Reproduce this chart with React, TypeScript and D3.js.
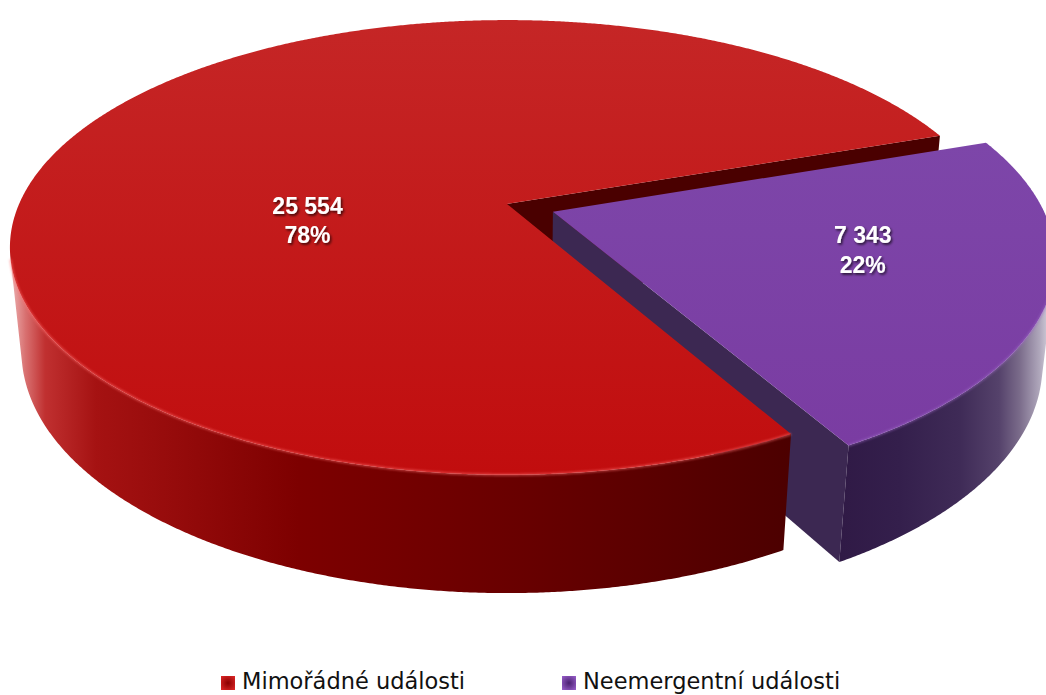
import React from "react";
import * as d3 from "d3";

// ---- data ----
const categories = ["Mimořádné události", "Neemergentní události"];
const values = [25554, 7343];

// ---- styles ----
const sliceStyles = [
  {
    topStops: [
      ["0%", "#c52626"],
      ["100%", "#c10d0e"],
    ],
    sideStops: [
      ["0%", "#eeb4b4"],
      ["2%", "#d87070"],
      ["4.5%", "#c03030"],
      ["11%", "#a51212"],
      ["37%", "#7d0000"],
      ["63%", "#6a0000"],
      ["100%", "#4c0000"],
    ],
    radial: "#4a0000",
    rim: "#ff7070",
    marker: ["#e02828", "#8a0000"],
  },
  {
    topStops: [
      ["0%", "#7d46a9"],
      ["100%", "#7a3ca2"],
    ],
    sideStops: [
      ["0%", "#301a46"],
      ["28%", "#341f4c"],
      ["58%", "#3f2b57"],
      ["77%", "#55426b"],
      ["87%", "#7a6b8a"],
      ["97%", "#b0a8bc"],
      ["100%", "#c8c2d0"],
    ],
    radial: "#3c2852",
    rim: "#9a68c4",
    marker: ["#9a60cc", "#4a2070"],
  },
];
const explodeBy = [0, 0.1];
const labelPlace = [
  { angle: 259.3, rho: 0.41 },
  { angle: 105.4, rho: 0.63 },
];

// ---- projection (3D perspective pie) ----
const W = 1046;
const H = 695;
const CX = 507;
const CY = 204;
const FOCAL = 2281;
const DIST = 4.675;
const SIN_A = 0.449;
const COS_A = Math.sqrt(1 - SIN_A * SIN_A);
const THICK = 0.24;
const START = (151 * Math.PI) / 180;
const CAM: [number, number, number] = [0, -DIST * COS_A, DIST * SIN_A];

function project(x: number, y: number, z: number): [number, number] {
  const depth = DIST + y * COS_A - z * SIN_A;
  const up = y * SIN_A + z * COS_A;
  return [CX + (FOCAL * x) / depth, CY - (FOCAL * up) / depth];
}

const fmtNum = d3.formatLocale({ decimal: ",", thousands: " ", grouping: [3], currency: ["", " Kč"] }).format(",d");
const fmtPct = d3.format(".0%");

const line = d3.line<[number, number]>().curve(d3.curveLinear);
const closed = (pts: [number, number][]) => line(pts) + "Z";

export default function App() {
  const total = d3.sum(values);
  const arcs = d3
    .pie<number>()
    .sort(null)
    .startAngle(START)
    .endAngle(START + 2 * Math.PI)(values);

  const radialFaces: { d: string; fill: string; depth: number }[] = [];
  const sides: { d: string; fill: string; depth: number }[] = [];
  const tops: { d: string; fill: string }[] = [];
  const rims: { d: string; stroke: string }[] = [];
  const labels: { x: number; y: number; v: string; p: string }[] = [];

  arcs.forEach((arc, i) => {
    const a0 = arc.startAngle;
    const a1 = arc.endAngle;
    const mid = (a0 + a1) / 2;
    const e = explodeBy[i];
    const ox = e * Math.sin(mid);
    const oy = e * Math.cos(mid);
    const pt = (a: number, rho: number, z: number) =>
      project(rho * Math.sin(a) + ox, rho * Math.cos(a) + oy, z);

    const n = Math.max(2, Math.ceil((a1 - a0) / 0.005));
    const angles = d3.range(n + 1).map((k) => a0 + ((a1 - a0) * k) / n);

    // top face
    const topPts: [number, number][] = [pt(0, 0, 0), ...angles.map((a) => pt(a, 1, 0))];
    tops.push({ d: closed(topPts), fill: `url(#top${i})` });

    // outer side, only the part facing the camera
    const visible = (a: number) =>
      -1 - ox * Math.sin(a) - oy * Math.cos(a) - DIST * COS_A * Math.cos(a) > 0;
    let run: number[] = [];
    const runs: number[][] = [];
    angles.forEach((a) => {
      if (visible(a)) run.push(a);
      else if (run.length) {
        runs.push(run);
        run = [];
      }
    });
    if (run.length) runs.push(run);
    runs.forEach((r) => {
      if (r.length < 2) return;
      const topArc = r.map((a) => pt(a, 1, 0));
      const botArc = r.map((a) => pt(a, 1, -THICK)).reverse();
      const m = r[Math.floor(r.length / 2)];
      sides.push({
        d: closed([...topArc, ...botArc]),
        fill: `url(#side${i})`,
        depth: Math.cos(m) + oy,
      });
      rims.push({ d: line(topArc) || "", stroke: sliceStyles[i].rim });
    });

    // radial faces
    const faces: [number, [number, number]][] = [
      [a0, [-Math.cos(a0), Math.sin(a0)]],
      [a1, [Math.cos(a1), -Math.sin(a1)]],
    ];
    faces.forEach(([a, nrm]) => {
      const dot = nrm[0] * (CAM[0] - ox) + nrm[1] * (CAM[1] - oy);
      if (dot <= 0) return;
      radialFaces.push({
        d: closed([pt(0, 0, 0), pt(a, 1, 0), pt(a, 1, -THICK), pt(0, 0, -THICK)]),
        fill: sliceStyles[i].radial,
        depth: 0.5 * Math.cos(a) + oy,
      });
    });

    const lp = labelPlace[i];
    const la = (lp.angle * Math.PI) / 180;
    const [lx, ly] = pt(la, lp.rho, 0);
    labels.push({ x: lx, y: ly, v: fmtNum(arc.data), p: fmtPct(arc.data / total) });
  });

  radialFaces.sort((a, b) => b.depth - a.depth);
  sides.sort((a, b) => b.depth - a.depth);

  const legendX = [221, 562];
  const legendY = 676;

  return (
    <svg
      width={W}
      height={H}
      viewBox={`0 0 ${W} ${H}`}
      style={{ position: "absolute", left: 0, top: 0, display: "block", background: "#fff" }}
    >
      <defs>
        {sliceStyles.map((s, i) => (
          <linearGradient key={`t${i}`} id={`top${i}`} x1="0" y1="0" x2="0" y2="1">
            {s.topStops.map(([o, c]) => (
              <stop key={o} offset={o} stopColor={c} />
            ))}
          </linearGradient>
        ))}
        <linearGradient id="side0" gradientUnits="userSpaceOnUse" x1={10} y1={0} x2={791} y2={0}>
          {sliceStyles[0].sideStops.map(([o, c]) => (
            <stop key={o} offset={o} stopColor={c} />
          ))}
        </linearGradient>
        <linearGradient id="side1" gradientUnits="userSpaceOnUse" x1={842} y1={0} x2={1046} y2={0}>
          {sliceStyles[1].sideStops.map(([o, c]) => (
            <stop key={o} offset={o} stopColor={c} />
          ))}
        </linearGradient>
        {sliceStyles.map((s, i) => (
          <radialGradient key={`m${i}`} id={`mk${i}`} cx="0.5" cy="0.5" r="0.7">
            <stop offset="0%" stopColor={s.marker[1]} />
            <stop offset="100%" stopColor={s.marker[0]} />
          </radialGradient>
        ))}
        <filter id="shadow" x="-20%" y="-20%" width="140%" height="160%">
          <feDropShadow dx="1.5" dy="1.8" stdDeviation="1.1" floodColor="#000" floodOpacity="0.65" />
        </filter>
        <filter id="blur" x="-5%" y="-5%" width="110%" height="110%">
          <feGaussianBlur stdDeviation="1" />
        </filter>
      </defs>

      <g>
        {radialFaces.map((f, k) => (
          <path key={`r${k}`} d={f.d} fill={f.fill} />
        ))}
        {sides.map((f, k) => (
          <path key={`s${k}`} d={f.d} fill={f.fill} />
        ))}
        {tops.map((f, k) => (
          <path key={`t${k}`} d={f.d} fill={f.fill} />
        ))}
        {rims.map((r, k) => (
          <path
            key={`h${k}`}
            d={r.d}
            fill="none"
            stroke={r.stroke}
            strokeWidth={2.2}
            strokeOpacity={0.55}
            filter="url(#blur)"
          />
        ))}
      </g>

      <g
        fontFamily="'Liberation Sans', Arial, sans-serif"
        fontWeight="bold"
        fontSize={23}
        fill="#fff"
        textAnchor="middle"
        filter="url(#shadow)"
      >
        {labels.map((l, k) => (
          <g key={`l${k}`}>
            <text x={l.x} y={l.y - 7}>
              {l.v}
            </text>
            <text x={l.x} y={l.y + 22.5}>
              {l.p}
            </text>
          </g>
        ))}
      </g>

      <g fontFamily="'DejaVu Sans', sans-serif" fontSize={22.5} fill="#111">
        {categories.map((c, i) => (
          <g key={c}>
            <rect x={legendX[i]} y={legendY} width={14} height={14} fill={`url(#mk${i})`} />
            <text x={legendX[i] + 21} y={legendY + 13}>
              {c}
            </text>
          </g>
        ))}
      </g>
    </svg>
  );
}
